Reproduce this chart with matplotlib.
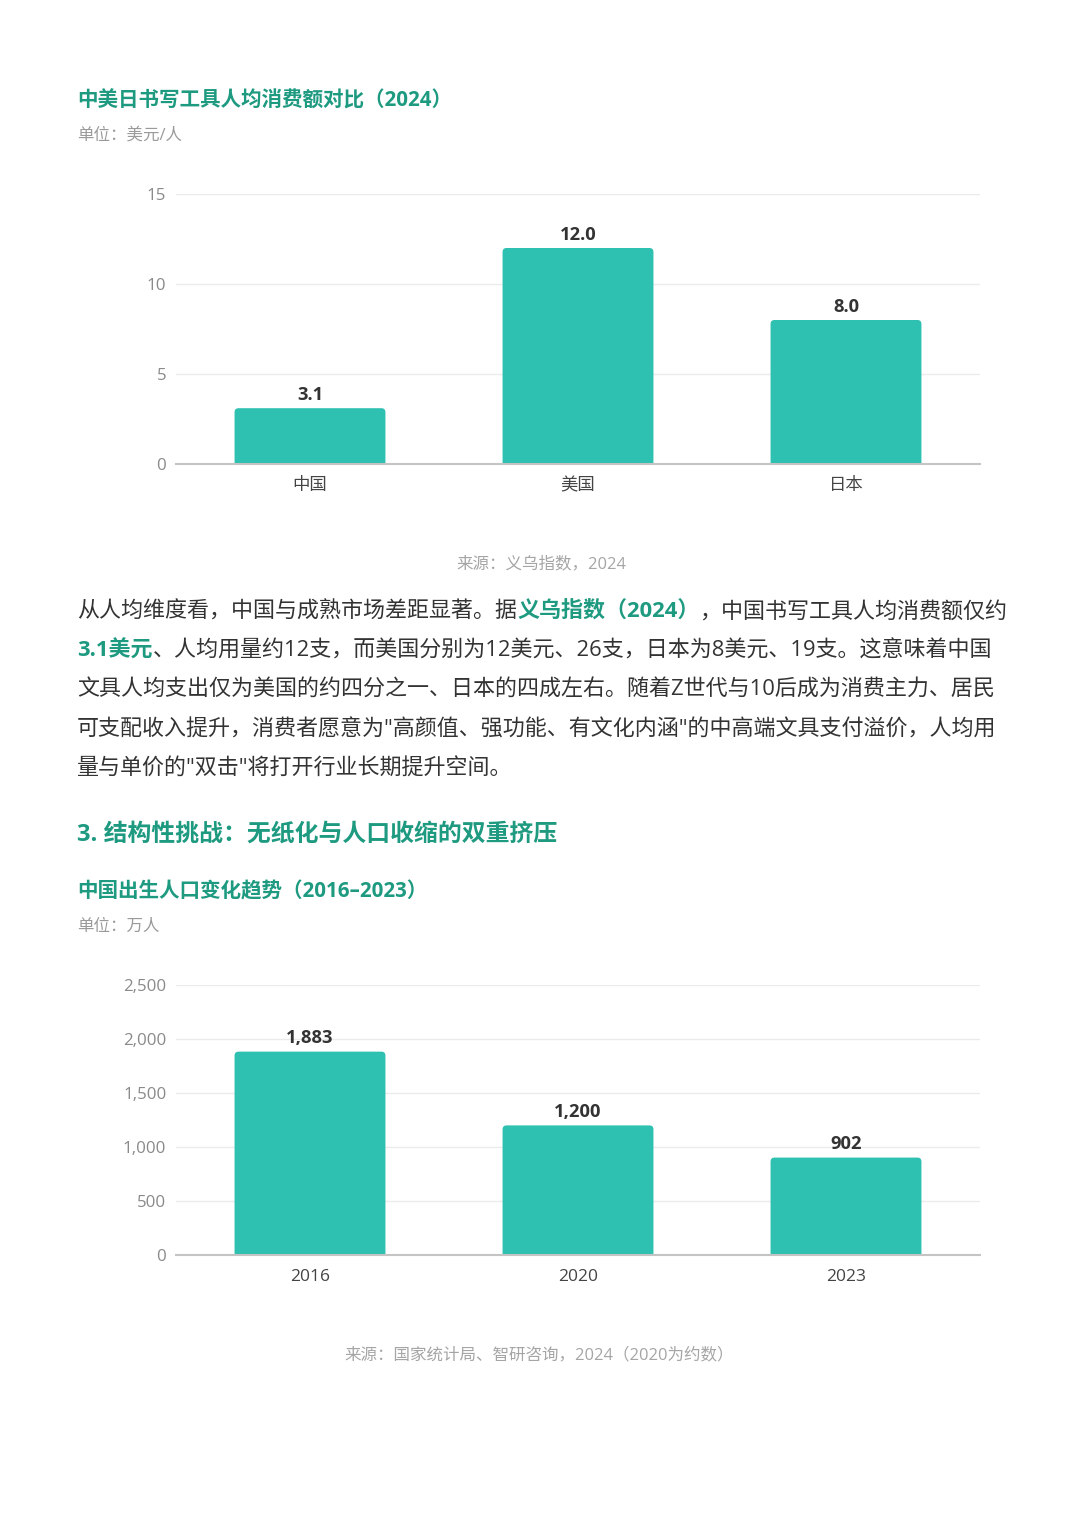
import matplotlib
matplotlib.use("Agg")
import matplotlib.pyplot as plt
from matplotlib.patches import FancyBboxPatch
from matplotlib.ticker import FuncFormatter

plt.rcParams['font.family'] = ['Open Sans', 'Noto Sans CJK SC', 'DejaVu Sans']

# --- data ---------------------------------------------------------
countries = ["中国", "美国", "日本"]
spend = [3.1, 12.0, 8.0]
spend_ticks = [0, 5, 10, 15]

years = ["2016", "2020", "2023"]
births = [1883, 1200, 902]
birth_ticks = [0, 500, 1000, 1500, 2000, 2500]

W, H = 1080, 1528
GREEN = "#1e9a80"
BAR = "#2ec0b0"
GREY = "#9a9a9a"
TEXT = "#333333"

fig = plt.figure(figsize=(W / 100, H / 100), dpi=100)
fig.patch.set_facecolor("white")


def fx(px):
    return px / W


def fy(py):
    return 1 - py / H


def bar_panel(left, top, right, bottom, cats, vals, ticks, fmt_tick, fmt_val):
    ax = fig.add_axes([fx(left), fy(bottom), (right - left) / W, (bottom - top) / H])
    x = list(range(len(cats)))
    bars = ax.bar(x, vals, width=0.563, color=BAR, zorder=3)
    ax.set_xlim(-0.5, len(cats) - 0.5)
    ax.set_ylim(ticks[0], ticks[-1])

    # rounded top corners: swap each bar for a rounded box of the same size
    px_x = len(cats) / (right - left)
    px_y = (ticks[-1] - ticks[0]) / (bottom - top)
    r = 4
    for b in bars:
        b.set_visible(False)
        fb = FancyBboxPatch((b.get_x(), b.get_y() - r * px_y), b.get_width(),
                            b.get_height() + r * px_y,
                            boxstyle=f"round,pad=0,rounding_size={r * px_x}",
                            mutation_aspect=px_y / px_x,
                            fc=BAR, ec="none", zorder=3)
        ax.add_patch(fb)

    ax.set_yticks(ticks)
    ax.yaxis.set_major_formatter(FuncFormatter(fmt_tick))
    ax.set_xticks(x)
    ax.set_xticklabels(cats)
    ax.grid(axis="y", color="#ebebeb", lw=1, zorder=0)
    for s in ["top", "right", "left"]:
        ax.spines[s].set_visible(False)
    ax.spines["bottom"].set_color("#c4c4c4")
    ax.spines["bottom"].set_linewidth(1.5)
    ax.spines["bottom"].set_zorder(4)
    ax.tick_params(axis="y", length=0, pad=7, labelsize=12.2, labelcolor="#8a8a8a")
    ax.tick_params(axis="x", length=0, pad=10, labelsize=12.5, labelcolor="#444444")
    for xi, v in zip(x, vals):
        ax.annotate(fmt_val(v), (xi, v), xytext=(0, 3), textcoords="offset points",
                    ha="center", va="bottom", fontsize=13.2, fontweight="bold", color=TEXT)
    return ax


def label(px, py, s, **kw):
    fig.text(fx(px), fy(py), s, va="center", **kw)


# --- chart 1 --------------------------------------------------------
label(77, 101, "中美日书写工具人均消费额对比（2024）", fontsize=14.8, fontweight="bold", color=GREEN)
label(77, 136, "单位：美元/人", fontsize=11.9, color=GREY)
bar_panel(176, 194, 980, 464, countries, spend, spend_ticks,
          lambda v, p: f"{v:g}", lambda v: f"{v:.1f}")
label(541, 564, "来源：义乌指数，2024", fontsize=11.9, color="#a5a5a5", ha="center")

# --- paragraph ------------------------------------------------------
para = [
    [("从人均维度看，中国与成熟市场差距显著。据", False), ("义乌指数（2024）", True),
     ("，中国书写工具人均消费额仅约", False)],
    [("3.1美元", True), ("、人均用量约12支，而美国分别为12美元、26支，日本为8美元、19支。这意味着中国", False)],
    [("文具人均支出仅为美国的约四分之一、日本的四成左右。随着Z世代与10后成为消费主力、居民", False)],
    [("可支配收入提升，消费者愿意为\"高颜值、强功能、有文化内涵\"的中高端文具支付溢价，人均用", False)],
    [("量与单价的\"双击\"将打开行业长期提升空间。", False)],
]
line_y = [610, 649, 688, 728, 767]
renderer = fig.canvas.get_renderer()
for segs, yy in zip(para, line_y):
    xx = 77
    for s, hl in segs:
        t = fig.text(fx(xx), fy(yy + 8), s, va="baseline", fontsize=15.85,
                     color=GREEN if hl else TEXT, fontweight="bold" if hl else "normal")
        xx += t.get_window_extent(renderer).width

# --- chart 2 --------------------------------------------------------
label(77, 835, "3. 结构性挑战：无纸化与人口收缩的双重挤压", fontsize=17.2, fontweight="bold", color=GREEN)
label(77, 892, "中国出生人口变化趋势（2016–2023）", fontsize=14.8, fontweight="bold", color=GREEN)
label(77, 927, "单位：万人", fontsize=11.9, color=GREY)
bar_panel(176, 985, 980, 1255, years, births, birth_ticks,
          lambda v, p: f"{v:,.0f}", lambda v: f"{v:,.0f}")
label(539, 1355, "来源：国家统计局、智研咨询，2024（2020为约数）", fontsize=11.9, color="#a5a5a5", ha="center")

fig.savefig("out.png", dpi=100, facecolor="white")
